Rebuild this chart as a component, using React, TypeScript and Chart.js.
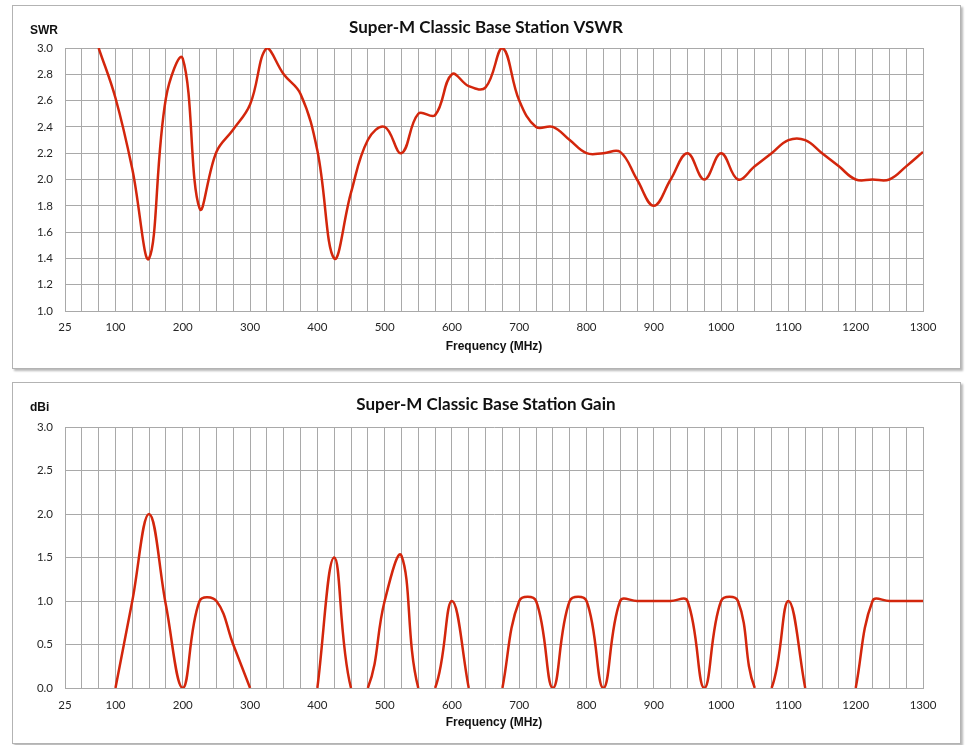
import React, { useEffect, useRef } from "react";
import { Chart, registerables } from "chart.js";

Chart.register(...registerables);

// ---------- data ----------
const FREQ_MHZ = [
  25, 50, 75, 100, 125, 150, 175, 200, 225, 250, 275, 300, 325, 350, 375, 400,
  425, 450, 475, 500, 525, 550, 575, 600, 625, 650, 675, 700, 725, 750, 775, 800,
  825, 850, 875, 900, 925, 950, 975, 1000, 1025, 1050, 1075, 1100, 1125, 1150,
  1175, 1200, 1225, 1250, 1275, 1300,
];

const SWR = [
  null, null, 3.0, 2.62, 2.08, 1.4, 2.62, 2.92, 1.78, 2.21, 2.38, 2.57, 3.0, 2.8, 2.65, 2.22,
  1.4, 1.9, 2.3, 2.4, 2.2, 2.5, 2.49, 2.8, 2.71, 2.7, 3.0, 2.6, 2.4, 2.4, 2.3, 2.2,
  2.2, 2.21, 2.0, 1.8, 2.0, 2.2, 2.0, 2.2, 2.0, 2.1, 2.2, 2.3, 2.3, 2.2,
  2.1, 2.0, 2.0, 2.0, 2.1, 2.21,
];

const GAIN_DBI = [
  null, null, null, 0, 1.0, 2.0, 0.95, 0, 1.0, 1.0, 0.5, 0, null, null, null, 0,
  1.5, 0, 0, 1.0, 1.52, 0, 0, 1.0, 0, null, 0, 1.0, 1.0, 0, 1.0, 1.0,
  0, 1.0, 1.0, 1.0, 1.0, 1.0, 0, 1.0, 1.0, 0, 0, 1.0, 0, null,
  null, 0, 1.0, 1.0, 1.0, 1.0,
];

const X_TICK_LABELS = [25, 100, 200, 300, 400, 500, 600, 700, 800, 900, 1000, 1100, 1200, 1300];
const SWR_TICKS = [1.0, 1.2, 1.4, 1.6, 1.8, 2.0, 2.2, 2.4, 2.6, 2.8, 3.0];
const GAIN_TICKS = [0.0, 0.5, 1.0, 1.5, 2.0, 2.5, 3.0];

const SWR_TITLE = "Super-M Classic Base Station VSWR";
const GAIN_TITLE = "Super-M Classic Base Station Gain";
const X_TITLE = "Frequency (MHz)";

// ---------- styles ----------
const RED = "#d3260c";
const GRID = "#a9a9a9";
const TICK_FONT = { family: "Lato, 'Noto Sans', sans-serif", size: 11.5 };
const TICK_COLOR = "#262626";

type PanelSpec = {
  values: (number | null)[];
  yTicks: number[];
  title: string;
  yTitle: string;
  canvasH: number;
  padTop: number;
  xAxisH: number;
  xTickPad: number;
  titleY: number;
  yTitleY: number;
  xTitleY: number;
};

function ChartPanel({ spec }: { spec: PanelSpec }) {
  const ref = useRef<HTMLCanvasElement | null>(null);
  useEffect(() => {
    if (!ref.current) return;
    const yMin = spec.yTicks[0];
    const yMax = spec.yTicks[spec.yTicks.length - 1];
    const yStep = spec.yTicks[1] - spec.yTicks[0];

    const textPlugin = {
      id: "panelTexts",
      afterDraw(chart: any) {
        const ctx = chart.ctx;
        const area = chart.chartArea;
        ctx.save();
        ctx.fillStyle = "#111";
        ctx.textBaseline = "middle";
        ctx.textAlign = "center";
        ctx.font = "bold 17px Lato, 'Open Sans', sans-serif";
        ctx.fillText(spec.title, 486, spec.titleY);
        ctx.font = "bold 12px 'Liberation Sans', Arial, sans-serif";
        ctx.fillText(X_TITLE, (area.left + area.right) / 2, spec.xTitleY);
        ctx.textAlign = "left";
        ctx.fillText(spec.yTitle, 30, spec.yTitleY);
        ctx.restore();
      },
    };

    const chart = new Chart(ref.current, {
      type: "line",
      data: {
        datasets: [
          {
            data: FREQ_MHZ.map((f, i) => ({ x: f, y: spec.values[i] })) as any,
            borderColor: RED,
            borderWidth: 2.5,
            pointRadius: 0,
            tension: 0.4,
            fill: false,
            spanGaps: false,
            segment: {
              borderColor: (c: any) =>
                c.p0.parsed.y === 0 && c.p1.parsed.y === 0 ? "rgba(0,0,0,0)" : RED,
            },
          },
        ],
      },
      options: {
        responsive: false,
        animation: false,
        devicePixelRatio: 1,
        layout: { padding: { left: 0, top: spec.padTop, right: 42, bottom: 0 } },
        plugins: {
          legend: { display: false },
          tooltip: { enabled: false },
          title: { display: false },
        },
        scales: {
          x: {
            type: "linear",
            min: 25,
            max: 1300,
            afterFit: (s: any) => {
              s.height = spec.xAxisH;
            },
            ticks: {
              stepSize: 25,
              maxTicksLimit: 200,
              autoSkip: false,
              maxRotation: 0,
              padding: spec.xTickPad,
              font: TICK_FONT,
              color: TICK_COLOR,
              callback: (v: any) => (X_TICK_LABELS.includes(Number(v)) ? String(v) : ""),
            },
            grid: { color: GRID, drawTicks: false, lineWidth: 1 },
            border: { color: GRID },
          },
          y: {
            min: yMin,
            max: yMax,
            afterFit: (s: any) => {
              s.width = 65;
            },
            ticks: {
              stepSize: yStep,
              padding: 12,
              font: TICK_FONT,
              color: TICK_COLOR,
              callback: (v: any) => Number(v).toFixed(1),
            },
            grid: { color: GRID, drawTicks: false, lineWidth: 1 },
            border: { color: GRID },
          },
        },
      },
      plugins: [textPlugin],
    } as any);
    return () => chart.destroy();
  }, [spec]);
  return (
    <canvas
      ref={ref}
      width={965}
      height={spec.canvasH}
      style={{ display: "block", width: 965, height: spec.canvasH }}
    />
  );
}

const SWR_SPEC: PanelSpec = {
  values: SWR,
  yTicks: SWR_TICKS,
  title: SWR_TITLE,
  yTitle: "SWR",
  canvasH: 375,
  padTop: 48,
  xAxisH: 64,
  xTickPad: 9,
  titleY: 28,
  yTitleY: 31,
  xTitleY: 347,
};

const GAIN_SPEC: PanelSpec = {
  values: GAIN_DBI,
  yTicks: GAIN_TICKS,
  title: GAIN_TITLE,
  yTitle: "dBi",
  canvasH: 370,
  padTop: 52,
  xAxisH: 57,
  xTickPad: 10,
  titleY: 30,
  yTitleY: 33,
  xTitleY: 348,
};

const panelStyle: React.CSSProperties = {
  position: "absolute",
  left: 12,
  width: 949,
  boxSizing: "border-box",
  border: "1px solid #b3b3b3",
  boxShadow: "2px 2px 2px rgba(0,0,0,0.28)",
  background: "#fff",
};

export default function App() {
  return (
    <div
      style={{
        position: "absolute",
        left: 0,
        top: 0,
        width: 965,
        height: 745,
        background: "#fff",
        overflow: "hidden",
      }}
    >
      <div style={{ ...panelStyle, top: 5, height: 364 }} />
      <div style={{ ...panelStyle, top: 382, height: 362 }} />
      <div style={{ position: "absolute", left: 0, top: 0 }}>
        <ChartPanel spec={SWR_SPEC} />
      </div>
      <div style={{ position: "absolute", left: 0, top: 375 }}>
        <ChartPanel spec={GAIN_SPEC} />
      </div>
    </div>
  );
}
